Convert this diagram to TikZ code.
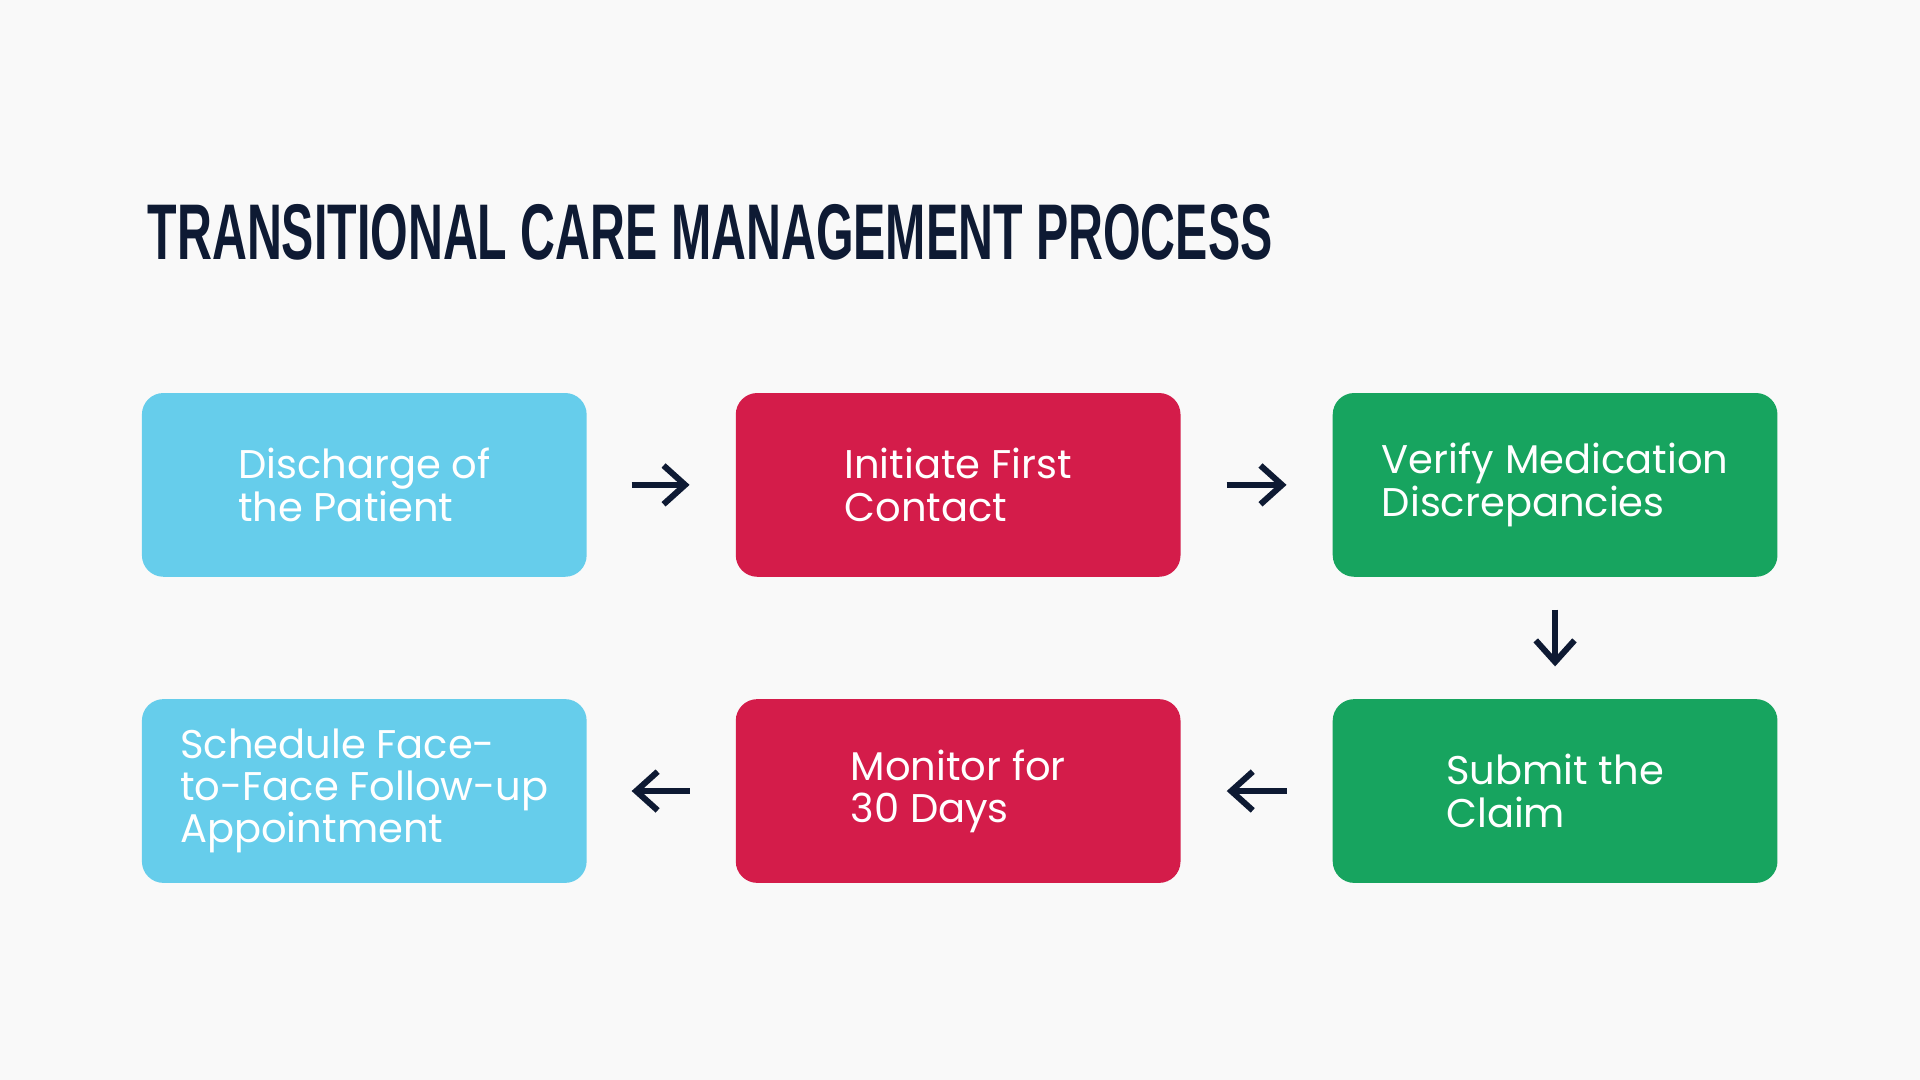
\documentclass[tikz,border=0pt]{standalone}
\usepackage{fontspec}
\setmainfont{Poppins}
\newfontfamily\titlefont{Liberation Sans}
\usetikzlibrary{arrows.meta}
\definecolor{skyblue}{HTML}{66CDEB}
\definecolor{crimson}{HTML}{D41C4A}
\definecolor{leaf}{HTML}{17A45F}
\definecolor{navy}{HTML}{0E1A33}
\tikzset{%
  stage/.style = {shape=rectangle, rounded corners=5pt, minimum width=3.63cm,%
                  minimum height=1.5cm, text=white, align=left,%
                  font=\fontsize{9.3}{9.8}\selectfont},%
  flow/.style  = {draw=navy, line width=1.4pt, -{Straight Barb[length=5pt,width=9pt]}}%
}
\begin{document}
\begin{tikzpicture}[x=0.01cm,y=-0.01cm]
  \fill[white!95!gray] (0,0) rectangle (1568,882);
  \useasboundingbox (0,0) rectangle (1568,882);
  \node[anchor=west,inner sep=0pt,text=navy] (title) at (120,190)
    {\resizebox{9.18cm}{0.45cm}{\titlefont\bfseries TRANSITIONAL CARE MANAGEMENT PROCESS}};
  % first row
  \node[stage,fill=skyblue] (discharge) at (297.5,396) {Discharge of\\the Patient};
  \node[stage,fill=crimson] (contact)   at (782.5,396) {Initiate First\\Contact};
  \node[stage,fill=leaf]    (verify)    at (1270,396)  {Verify Medication\\Discrepancies};
  % second row
  \node[stage,fill=leaf]    (claim)     at (1270,646)  {Submit the\\Claim};
  \node[stage,fill=crimson] (monitor)   at (782.5,646) {Monitor for\\30 Days};
  \node[stage,fill=skyblue] (schedule)  at (297.5,646) {Schedule Face-\\to-Face Follow-up\\Appointment};
  % arrows
  \draw[flow] ([xshift=0.36cm]discharge.east) -- ([xshift=-0.37cm]contact.west);
  \draw[flow] ([xshift=0.37cm]contact.east) -- ([xshift=-0.37cm]verify.west);
  \draw[flow] ([yshift=-0.26cm]verify.south) -- ([yshift=0.26cm]claim.north);
  \draw[flow] ([xshift=-0.37cm]claim.west) -- ([xshift=0.37cm]monitor.east);
  \draw[flow] ([xshift=-0.37cm]monitor.west) -- ([xshift=0.36cm]schedule.east);
\end{tikzpicture}
\end{document}
